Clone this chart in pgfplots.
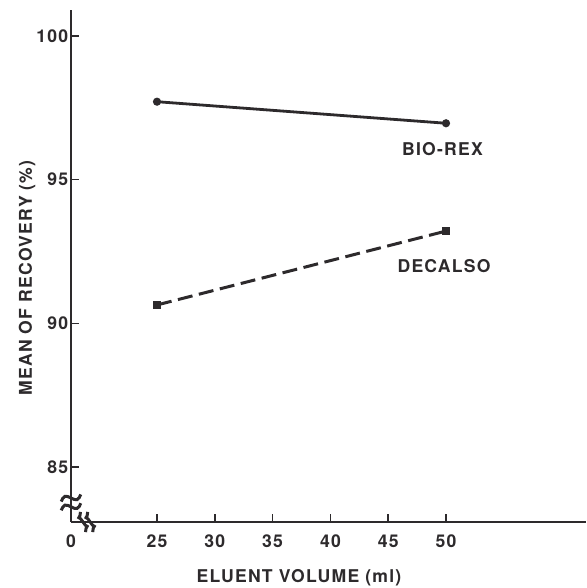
\documentclass[border=0pt]{standalone}
\usepackage{fontspec}
\setmainfont{TeX Gyre Heros}[LetterSpace=7]
\usepackage{pgfplots}
\pgfplotsset{compat=1.18}
\definecolor{ink}{RGB}{45,42,44}
\newcommand{\lf}{\fontsize{8.8}{10.5}\selectfont\bfseries}
\begin{document}
\lf
\begin{tikzpicture}
\path[use as bounding box] (-35.5pt,-33pt) rectangle (257.5pt,261pt);
\begin{axis}[
  at={(0,0)}, anchor=south west,
  width=257.5pt, height=256pt, scale only axis,
  axis x line=bottom, axis y line=left,
  axis line style={line width=1.3pt, color=ink, -},
  xmin=17.56, xmax=62.11, ymin=83.09, ymax=100.90,
  xtick={17.56,25,30,35,40,45,50},
  xticklabels={0,25,30,35,40,45,50},
  ytick={85,90,95,100},
  tick align=inside,
  major tick length=3.8pt,
  tick style={line width=0.8pt, color=ink},
  ticklabel style={color=ink, font=\lf},
  /pgf/number format/assume math mode=true,
  xticklabel style={anchor=center, yshift=-9.5pt},
  yticklabel style={anchor=east, inner sep=0pt, xshift=-1.2pt},
  xlabel={ELUENT VOLUME (ml)},
  ylabel={MEAN OF RECOVERY (\%)},
  label style={color=ink, font=\lf},
  xlabel style={at={(axis description cs:0.4427,-0.109)}, anchor=center},
  ylabel style={at={(axis description cs:-0.0854,0.4766)}, anchor=center},
  clip=false,
]
\addplot[ink, line width=1.4pt, mark=*, mark size=1.3pt] coordinates {(25,97.71) (50,96.96)};
\addplot[ink, line width=1.5pt, dash pattern=on 7.5pt off 3.3pt, mark=square*, mark size=1.4pt, mark options={solid}] coordinates {(25,90.64) (50,93.21)};
\node[color=ink, font=\lf] at (axis cs:49.7,96.06) {BIO-REX};
\node[color=ink, font=\lf] at (axis cs:49.83,91.98) {DECALSO};
\end{axis}
% axis break marks
\begin{scope}[x=1pt, y=1pt, color=ink, line width=1.5pt]
\foreach \yy in {12.0,7.6}{
  \draw[rotate around={20:(0,\yy)}] (-5.2,\yy) sin (-2.6,\yy+1.8) cos (0,\yy) sin (2.6,\yy-1.8) cos (5.2,\yy);
}
\foreach \xx in {6.0,9.6}{
  \draw[rotate around={14:(\xx,0)}] (\xx,-5.2) sin (\xx+1.5,-2.6) cos (\xx,0) sin (\xx-1.5,2.6) cos (\xx,5.2);
}
\end{scope}
\end{tikzpicture}
\end{document}
